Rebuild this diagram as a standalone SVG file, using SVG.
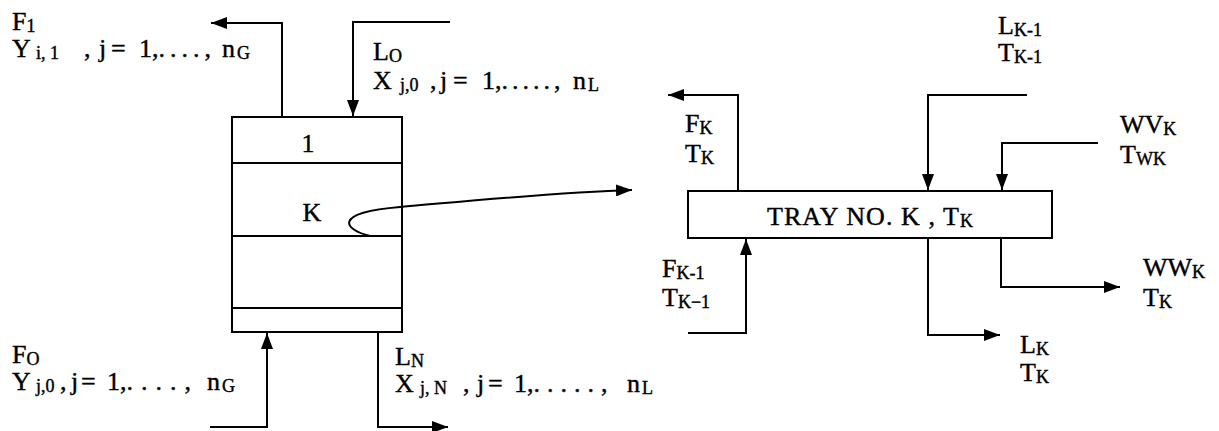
<svg xmlns="http://www.w3.org/2000/svg" width="1219" height="431" viewBox="0 0 1219 431">
<style>
text{font-family:"Liberation Serif","Times New Roman",serif;font-size:26px;fill:#000;stroke:#000;stroke-width:0.4}
.s{font-size:18px}
.ln{fill:none;stroke:#000;stroke-width:2}
.bx{fill:#fff;stroke:#000;stroke-width:2}
</style>
<defs>
<marker id="a" viewBox="0 0 16 12" refX="16" refY="6" markerWidth="16" markerHeight="12" markerUnits="userSpaceOnUse" orient="auto">
<path d="M0,0 L16,6 L0,12 z" fill="#000"/>
</marker>
</defs>
<rect width="1219" height="431" fill="#fff"/>
<g id="column">
<rect class="bx" x="232" y="117" width="170" height="215"/>
<line class="ln" x1="232" y1="163" x2="402" y2="163"/>
<line class="ln" x1="232" y1="236" x2="402" y2="236"/>
<line class="ln" x1="232" y1="308" x2="402" y2="308"/>
<text x="308" y="152" text-anchor="middle">1</text>
<text x="312" y="221" text-anchor="middle">K</text>
</g>
<g id="tray">
<rect class="bx" x="688" y="191" width="364" height="47"/>
<text x="767" y="225" textLength="206">TRAY NO. K , T<tspan class="s" dy="2">K</tspan></text>
</g>
<g id="connectors">
<path class="ln" d="M282,117 V23 H211" marker-end="url(#a)"/>
<path class="ln" d="M450,22 H353 V116" marker-end="url(#a)"/>
<path class="ln" d="M210,427 H267 V333" marker-end="url(#a)"/>
<path class="ln" d="M378,332 V427 H448" marker-end="url(#a)"/>
<path class="ln" d="M370,236 C345,230 330,213 400,207 C480,200 560,192 632,190" marker-end="url(#a)"/>
<path class="ln" d="M738,191 V95 H668" marker-end="url(#a)"/>
<path class="ln" d="M1027,95 H928 V190" marker-end="url(#a)"/>
<path class="ln" d="M1098,143 H1002 V190" marker-end="url(#a)"/>
<path class="ln" d="M688,333 H746 V239" marker-end="url(#a)"/>
<path class="ln" d="M928,238 V335 H1000" marker-end="url(#a)"/>
<path class="ln" d="M1001,238 V287 H1120" marker-end="url(#a)"/>
</g>
<g id="label-F1">
<text x="12" y="30">F<tspan class="s" dy="2">1</tspan></text>
<text x="12" y="57">Y<tspan class="s" x="36" dy="2">i, 1</tspan><tspan x="84" dy="-2">,</tspan><tspan x="99">j</tspan><tspan x="111">=</tspan><tspan x="139">1,</tspan><tspan style="letter-spacing:5px">....</tspan><tspan>,</tspan><tspan x="222">n</tspan><tspan class="s" x="237" dy="2">G</tspan></text>
</g>
<g id="label-L0">
<text x="373" y="60">L<tspan class="s" dy="2">O</tspan></text>
<text x="373" y="89">X<tspan class="s" x="400" dy="2">j,0</tspan><tspan x="430" dy="-2">,</tspan><tspan x="440">j</tspan><tspan x="453">=</tspan><tspan x="482">1,</tspan><tspan style="letter-spacing:4px">.....</tspan><tspan>,</tspan><tspan x="573">n</tspan><tspan class="s" x="588" dy="2">L</tspan></text>
</g>
<g id="label-F0">
<text x="12" y="363">F<tspan class="s" dy="2">O</tspan></text>
<text x="12" y="390">Y<tspan class="s" x="36" dy="2">j,0</tspan><tspan x="60" dy="-2">,</tspan><tspan x="71">j</tspan><tspan x="81">=</tspan><tspan x="107">1,</tspan><tspan style="letter-spacing:8px">....</tspan><tspan>,</tspan><tspan x="207">n</tspan><tspan class="s" x="222" dy="2">G</tspan></text>
</g>
<g id="label-LN">
<text x="395" y="365">L<tspan class="s" dy="2">N</tspan></text>
<text x="395" y="392">X<tspan class="s" x="420" dy="2">j, N</tspan><tspan x="463" dy="-2">,</tspan><tspan x="477">j</tspan><tspan x="488">=</tspan><tspan x="514">1,</tspan><tspan style="letter-spacing:7px">.....</tspan><tspan>,</tspan><tspan x="627">n</tspan><tspan class="s" x="642" dy="2">L</tspan></text>
</g>
<g id="label-FK">
<text x="685" y="132">F<tspan class="s" dy="2">K</tspan></text>
<text x="685" y="162">T<tspan class="s" dy="2">K</tspan></text>
</g>
<g id="label-LK1">
<text x="998" y="34">L<tspan class="s" dy="2">K-1</tspan></text>
<text x="998" y="61">T<tspan class="s" dy="2">K-1</tspan></text>
</g>
<g id="label-WVK">
<text x="1120" y="133">WV<tspan class="s" dy="2">K</tspan></text>
<text x="1120" y="163">T<tspan class="s" dy="2">WK</tspan></text>
</g>
<g id="label-FK1">
<text x="662" y="277">F<tspan class="s" dy="2">K-1</tspan></text>
<text x="662" y="306">T<tspan class="s" dy="2">K−1</tspan></text>
</g>
<g id="label-WWK">
<text x="1143" y="276">WW<tspan class="s" dy="2">K</tspan></text>
<text x="1143" y="306">T<tspan class="s" dy="2">K</tspan></text>
</g>
<g id="label-LK">
<text x="1020" y="353">L<tspan class="s" dy="2">K</tspan></text>
<text x="1020" y="381">T<tspan class="s" dy="2">K</tspan></text>
</g>
</svg>
